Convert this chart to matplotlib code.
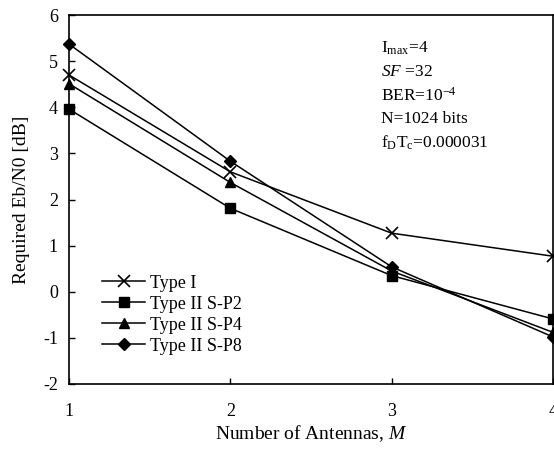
import matplotlib
matplotlib.use("Agg")
import matplotlib.pyplot as plt

plt.rcParams['font.family'] = ['Liberation Serif', 'DejaVu Serif']
plt.rcParams['mathtext.fontset'] = 'custom'
plt.rcParams['mathtext.rm'] = 'Liberation Serif'
plt.rcParams['mathtext.it'] = 'Liberation Serif:italic'
plt.rcParams['axes.unicode_minus'] = False

antennas = [1, 2, 3, 4]
type1 = [4.70, 2.60, 1.27, 0.77]
sp2 = [3.96, 1.81, 0.35, -0.59]
sp4 = [4.51, 2.37, 0.45, -0.88]
sp8 = [5.37, 2.83, 0.54, -0.98]
labels = ["Type I", "Type II S-P2", "Type II S-P4", "Type II S-P8"]
annot = [r"I$_{\mathrm{max}}$=4", r"$\it{SF}$ =32", r"BER=10$^{\mathrm{-4}}$",
         "N=1024 bits", r"f$_{\mathrm{D}}$T$_{\mathrm{c}}$=0.000031"]

fig = plt.figure(figsize=(5.54, 4.5), dpi=100)
ax = fig.add_axes([69/554, 1-384/450, (553-69)/554, (384-15)/450])

ax.plot(antennas, type1, color='black', lw=1.1, marker='x', ms=9, mew=1.2, label=labels[0], clip_on=False)
ax.plot(antennas, sp2, color='black', lw=1.1, marker='s', ms=6.5, label=labels[1], clip_on=False)
ax.plot(antennas, sp4, color='black', lw=1.1, marker='^', ms=7.5, label=labels[2], clip_on=False)
ax.plot(antennas, sp8, color='black', lw=1.1, marker='D', ms=6, label=labels[3], clip_on=False)

ax.set_xlim(1, 4)
ax.set_ylim(-2, 6)
ax.set_xticks([1, 2, 3, 4])
ax.set_yticks(range(-2, 7))
ax.tick_params(direction='in', labelsize=13, length=4, width=1)
ax.tick_params(axis='x', pad=14)
ax.tick_params(axis='y', pad=8)
for s in ax.spines.values():
    s.set_linewidth(1.2)

ax.set_xlabel(r"Number of Antennas, $\it{M}$", fontsize=14, labelpad=2)
ax.set_ylabel("Required Eb/N0 [dB]", fontsize=14, labelpad=9)

leg = ax.legend(loc='upper left', bbox_to_anchor=(0.068, 0.296), frameon=False,
                fontsize=13, handlelength=2.4, handletextpad=0.25,
                labelspacing=0.22, borderaxespad=0, borderpad=0)

for i, t in enumerate(annot):
    fig.text(381/554, 1-(48+23.7*i)/450, t, fontsize=12.5, va='center', ha='left')

fig.savefig("out.png", dpi=100)
